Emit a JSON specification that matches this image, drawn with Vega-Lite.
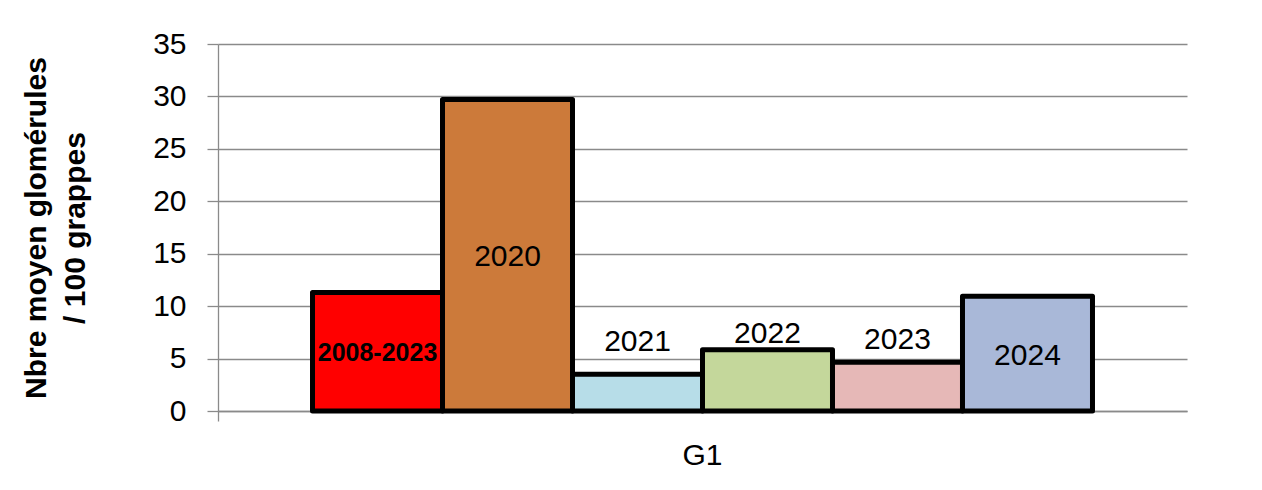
{
  "$schema": "https://vega.github.io/schema/vega-lite/v6.json",
  "width": 969,
  "height": 367,
  "autosize": {"type": "none"},
  "padding": {"left": 218, "top": 44, "right": 75, "bottom": 79},
  "background": "white",
  "config": {"view": {"stroke": null}, "font": "Liberation Sans"},
  "data": {"values": [
    {"group": "G1", "year": "2008-2023", "value": 11.3},
    {"group": "G1", "year": "2020", "value": 29.7},
    {"group": "G1", "year": "2021", "value": 3.5},
    {"group": "G1", "year": "2022", "value": 5.85},
    {"group": "G1", "year": "2023", "value": 4.65},
    {"group": "G1", "year": "2024", "value": 10.95}
  ]},
  "encoding": {
    "x": {"field": "group", "type": "nominal",
      "scale": {"paddingInner": 0, "paddingOuter": 0},
      "axis": {"title": null, "labelAngle": 0, "labelFontSize": 30, "labelColor": "black", "labelPadding": 19,
        "tickSize": 10, "bandPosition": 0, "tickColor": "#8a8a8a", "domainColor": "#8a8a8a", "tickWidth": 1.3, "domainWidth": 1.3}},
    "xOffset": {"field": "year", "type": "nominal", "sort": null,
      "scale": {"paddingInner": 0, "paddingOuter": 0.727}}
  },
  "layer": [
    {
      "mark": {"type": "bar", "stroke": "black", "strokeWidth": 5, "strokeJoin": "round"},
      "encoding": {
        "y": {"field": "value", "type": "quantitative",
          "scale": {"domain": [0, 35], "nice": false},
          "axis": {"title": ["Nbre moyen glomérules", "/ 100 grappes"], "titleFontSize": 30, "titleFontWeight": "bold",
            "titleColor": "black", "titleLineHeight": 39, "titlePadding": 62,
            "values": [0, 5, 10, 15, 20, 25, 30, 35], "labelFontSize": 30, "labelColor": "black", "labelPadding": 21,
            "tickSize": 11, "tickColor": "#8a8a8a", "tickWidth": 1.3, "domainColor": "#8a8a8a", "domainWidth": 1.3,
            "grid": true, "gridColor": "#8a8a8a", "gridWidth": 1.3}},
        "color": {"field": "year", "type": "nominal", "legend": null,
          "scale": {"domain": ["2008-2023", "2020", "2021", "2022", "2023", "2024"],
            "range": ["#FF0000", "#CC7A3A", "#B7DDE8", "#C4D79B", "#E6B8B7", "#A9B8D8"]}}
      }
    },
    {
      "transform": [{"filter": {"field": "year", "oneOf": ["2020", "2024"]}}, {"calculate": "datum.value/2", "as": "mid"}],
      "mark": {"type": "text", "fontSize": 30, "baseline": "middle", "align": "center", "color": "black", "dy": 2},
      "encoding": {"y": {"field": "mid", "type": "quantitative"}, "text": {"field": "year"}}
    },
    {
      "transform": [{"filter": {"field": "year", "oneOf": ["2008-2023"]}}, {"calculate": "datum.value/2", "as": "mid"}],
      "mark": {"type": "text", "fontSize": 25, "fontWeight": "bold", "baseline": "middle", "align": "center", "color": "black", "dy": 1},
      "encoding": {"y": {"field": "mid", "type": "quantitative"}, "text": {"field": "year"}}
    },
    {
      "transform": [{"filter": {"field": "year", "equal": "2021"}}],
      "mark": {"type": "text", "fontSize": 30, "baseline": "alphabetic", "align": "center", "color": "black", "dy": -23},
      "encoding": {"y": {"field": "value", "type": "quantitative"}, "text": {"field": "year"}}
    },
    {
      "transform": [{"filter": {"field": "year", "equal": "2022"}}],
      "mark": {"type": "text", "fontSize": 30, "baseline": "alphabetic", "align": "center", "color": "black", "dy": -7},
      "encoding": {"y": {"field": "value", "type": "quantitative"}, "text": {"field": "year"}}
    },
    {
      "transform": [{"filter": {"field": "year", "equal": "2023"}}],
      "mark": {"type": "text", "fontSize": 30, "baseline": "alphabetic", "align": "center", "color": "black", "dy": -13},
      "encoding": {"y": {"field": "value", "type": "quantitative"}, "text": {"field": "year"}}
    }
  ]
}
